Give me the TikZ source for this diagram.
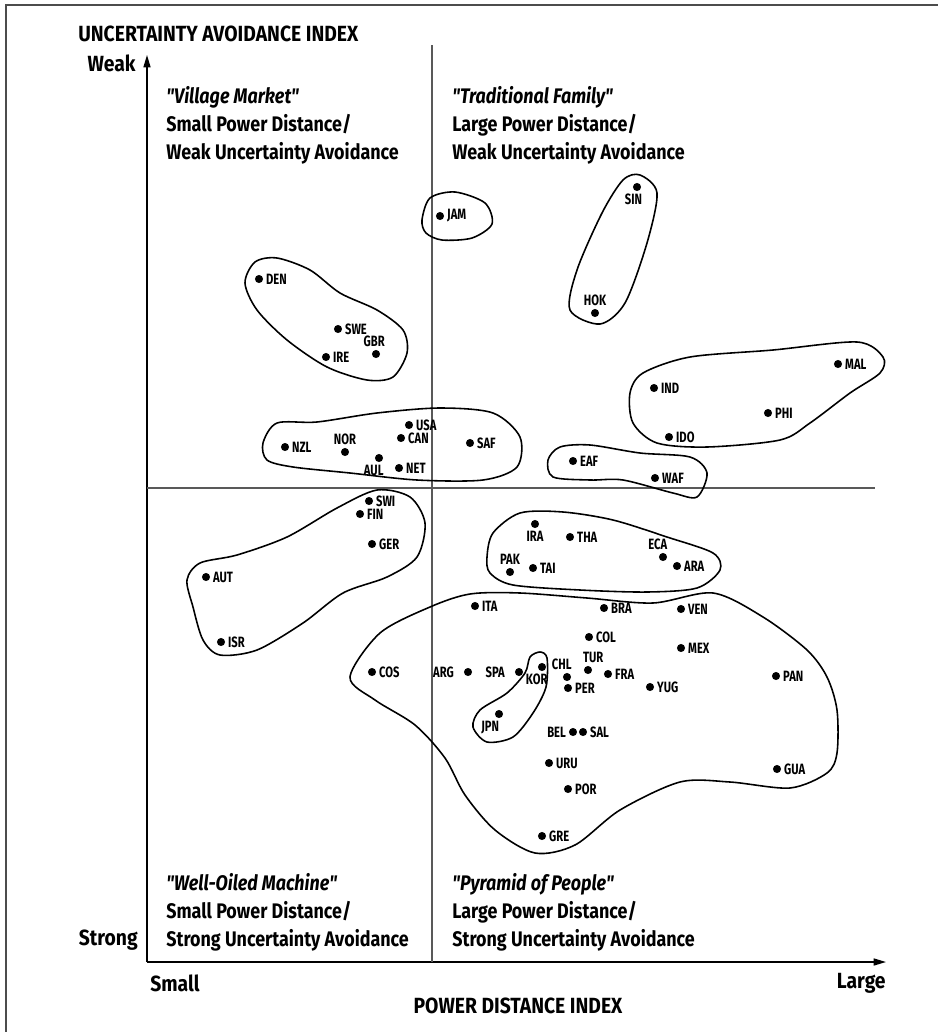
\documentclass[tikz,border=0pt]{standalone}
\usepackage{fontspec}
\usepackage{tikz}
\usetikzlibrary{arrows.meta}
\newfontfamily\condfont{Fira Sans}[FakeStretch=0.75]
\newfontfamily\quadfont{Fira Sans}[FakeStretch=0.85]
\newfontfamily\axisfont{Fira Sans}[FakeStretch=0.88]
\tikzset{
    country-dot/.style = {circle, fill=black, inner sep=0pt, minimum size=4.6pt},
    country-label/.style = {font=\condfont\bfseries\fontsize{8.5}{9}\selectfont, inner sep=0.8pt},
    cluster-line/.style = {draw=black, line width=0.9pt},
    quadrant-text/.style = {font=\quadfont\bfseries\fontsize{12}{15.9}\selectfont, align=left, anchor=north west, inner sep=0pt},
    axis-text/.style = {font=\axisfont\bfseries\fontsize{12.5}{14}\selectfont, inner sep=0pt},
}

\begin{document}
\begin{tikzpicture}[x=0.02cm, y=-0.02cm, every label/.style={country-label}, label distance=0.6pt]
\useasboundingbox (0,0) rectangle (938,1032);
\draw[gray!60!black, line width=1.3pt] (6,1032) -- (6,5) -- (938,5);

% axes and quadrant lines
\coordinate (origin) at (147,962);
\coordinate (ytop) at (147,55);
\coordinate (xend) at (886,962);
\coordinate (midtop) at (432,45);
\coordinate (midbot) at (432,962);
\coordinate (midleft) at (147,488);
\coordinate (midright) at (875,488);
\draw[line width=0.8pt, -{Triangle[length=7pt,width=4pt]}] (origin) -- (ytop);
\draw[line width=0.8pt, -{Triangle[length=7pt,width=4pt]}] (origin) -- (xend);
\draw[gray!70!black, line width=0.6pt] (midtop) -- (midbot);
\draw[gray!70!black, line width=0.6pt] (midleft) -- (midright);

\node[axis-text, anchor=west] (uai) at (78,34) {UNCERTAINTY AVOIDANCE INDEX};
\node[axis-text, anchor=east] (weak) at (136,63) {Weak};
\node[axis-text, anchor=east] (strong) at (138,940) {Strong};
\node[axis-text, anchor=west] (small) at (150,983) {Small};
\node[axis-text, anchor=east] (large) at (886,983) {Large};
\node[axis-text] (pdi) at (518,1006) {POWER DISTANCE INDEX};

% quadrants
\node[quadrant-text] (village) at (166,86) {{\itshape "Village Market"}\\Small Power Distance/\\Weak Uncertainty Avoidance};
\node[quadrant-text] (family) at (452,86) {{\itshape "Traditional Family"}\\Large Power Distance/\\Weak Uncertainty Avoidance};
\node[quadrant-text] (machine) at (166,873) {{\itshape "Well-Oiled Machine"}\\Small Power Distance/\\Strong Uncertainty Avoidance};
\node[quadrant-text] (pyramid) at (452,873) {{\itshape "Pyramid of People"}\\Large Power Distance/\\Strong Uncertainty Avoidance};

% clusters
\draw[cluster-line] plot[smooth cycle] coordinates {(422,220) (430,198) (455,192) (485,203) (492,224) (472,238) (442,240) (426,233)};
\draw[cluster-line] plot[smooth cycle] coordinates {(640,175) (657,193) (647,243) (625,303) (600,324) (570,310) (577,270) (602,213) (623,180)};
\draw[cluster-line] plot[smooth cycle] coordinates {(245,283) (255,262) (277,258) (310,270) (340,293) (377,310) (403,330) (407,353) (393,377) (367,380) (327,367) (287,340) (257,310)};
\draw[cluster-line] plot[smooth cycle] coordinates {(263,443) (277,423) (317,422) (377,413) (440,408) (493,413) (520,437) (517,467) (483,480) (417,480) (350,473) (293,467) (267,460)};
\draw[cluster-line] plot[smooth cycle] coordinates {(548,460) (560,447) (590,445) (640,453) (690,457) (707,473) (697,497) (673,493) (623,480) (590,480) (553,477)};
\draw[cluster-line] plot[smooth cycle] coordinates {(630,393) (643,373) (690,357) (773,350) (857,342) (883,357) (880,373) (850,393) (810,423) (780,440) (707,447) (657,443) (633,423)};
\draw[cluster-line] plot[smooth cycle] coordinates {(187,580) (200,563) (237,555) (287,537) (337,508) (377,490) (410,497) (425,523) (417,557) (387,577) (343,593) (303,623) (257,650) (220,655) (203,640) (193,607)};
\draw[cluster-line] plot[smooth cycle] coordinates {(487,557) (493,533) (520,513) (563,512) (613,520) (667,537) (713,553) (720,570) (697,588) (647,592) (580,590) (513,585) (490,573)};
\draw[cluster-line] plot[smooth cycle] coordinates {(350,677) (380,633) (430,607) (470,594) (520,593) (587,598) (653,603) (713,593) (763,617) (807,650) (827,677) (837,710) (837,753) (827,773) (790,788) (730,782) (680,782) (620,810) (575,845) (535,853) (495,830) (465,795) (445,758) (415,725) (375,700)};
\draw[cluster-line] plot[smooth cycle] coordinates {(530,657) (540,652) (547,658) (546,687) (533,713) (513,737) (487,742) (473,727) (480,710) (507,693) (525,673)};

% countries, upper left
\node[country-dot, label=right:DEN] (den) at (259,279) {};
\node[country-dot, label=right:SWE] (swe) at (338,329) {};
\node[country-dot, label={[xshift=-1pt]above:GBR}] (gbr) at (376,354) {};
\node[country-dot, label=right:IRE] (ire) at (326,357) {};
\node[country-dot, label=right:NZL] (nzl) at (285,447) {};
\node[country-dot, label=above:NOR] (nor) at (345,452) {};
\node[country-dot, label=right:USA] (usa) at (409,425) {};
\node[country-dot, label=right:CAN] (can) at (401,438) {};
\node[country-dot, label={[xshift=-3pt]below:AUL}] (aul) at (379,458) {};
\node[country-dot, label=right:NET] (net) at (399,468) {};
\node[country-dot, label=right:SAF] (saf) at (470,443) {};
\node[country-dot, label=right:JAM] (jam) at (440,216) {};

% countries, upper right
\node[country-dot, label={[xshift=-2pt]below:SIN}] (sin) at (637,187) {};
\node[country-dot, label=above:HOK] (hok) at (595,313) {};
\node[country-dot, label=right:MAL] (mal) at (838,364) {};
\node[country-dot, label=right:IND] (ind) at (654,388) {};
\node[country-dot, label=right:PHI] (phi) at (768,413) {};
\node[country-dot, label=right:IDO] (ido) at (669,437) {};
\node[country-dot, label=right:EAF] (eaf) at (573,461) {};
\node[country-dot, label=right:WAF] (waf) at (655,478) {};

% countries, lower left
\node[country-dot, label=right:SWI] (swi) at (369,501) {};
\node[country-dot, label=right:FIN] (fin) at (360,514) {};
\node[country-dot, label=right:GER] (ger) at (372,544) {};
\node[country-dot, label=right:AUT] (aut) at (206,577) {};
\node[country-dot, label=right:ISR] (isr) at (221,642) {};
\node[country-dot, label=right:COS] (cos) at (372,672) {};

% countries, lower right
\node[country-dot, label=below:IRA] (ira) at (535,524) {};
\node[country-dot, label=right:THA] (tha) at (570,537) {};
\node[country-dot, label=above:PAK] (pak) at (510,572) {};
\node[country-dot, label=right:TAI] (tai) at (533,568) {};
\node[country-dot, label={[xshift=-3pt]above:ECA}] (eca) at (663,557) {};
\node[country-dot, label=right:ARA] (ara) at (677,566) {};
\node[country-dot, label=right:ITA] (ita) at (475,606) {};
\node[country-dot, label=right:BRA] (bra) at (604,608) {};
\node[country-dot, label=right:VEN] (ven) at (681,609) {};
\node[country-dot, label=right:COL] (col) at (589,637) {};
\node[country-dot, label=right:MEX] (mex) at (681,648) {};
\node[country-dot, label={[xshift=3pt]above:TUR}] (tur) at (588,670) {};
\node[country-dot, label={[xshift=-3pt]above:CHL}] (chl) at (567,677) {};
\node[country-dot, label={[xshift=-3pt]below:KOR}] (kor) at (542,667) {};
\node[country-dot, label={[xshift=-4pt]left:SPA}] (spa) at (519,672) {};
\node[country-dot, label={[xshift=-4pt]left:ARG}] (arg) at (468,672) {};
\node[country-dot, label=right:FRA] (fra) at (608,674) {};
\node[country-dot, label=right:PER] (per) at (568,688) {};
\node[country-dot, label=right:YUG] (yug) at (650,687) {};
\node[country-dot, label=right:PAN] (pan) at (776,676) {};
\node[country-dot, label={[xshift=-5pt]below:JPN}] (jpn) at (499,714) {};
\node[country-dot, label=left:BEL] (bel) at (573,732) {};
\node[country-dot, label=right:SAL] (sal) at (583,732) {};
\node[country-dot, label=right:URU] (uru) at (549,763) {};
\node[country-dot, label=right:GUA] (gua) at (777,769) {};
\node[country-dot, label=right:POR] (por) at (568,789) {};
\node[country-dot, label=right:GRE] (gre) at (542,836) {};
\end{tikzpicture}
\end{document}
